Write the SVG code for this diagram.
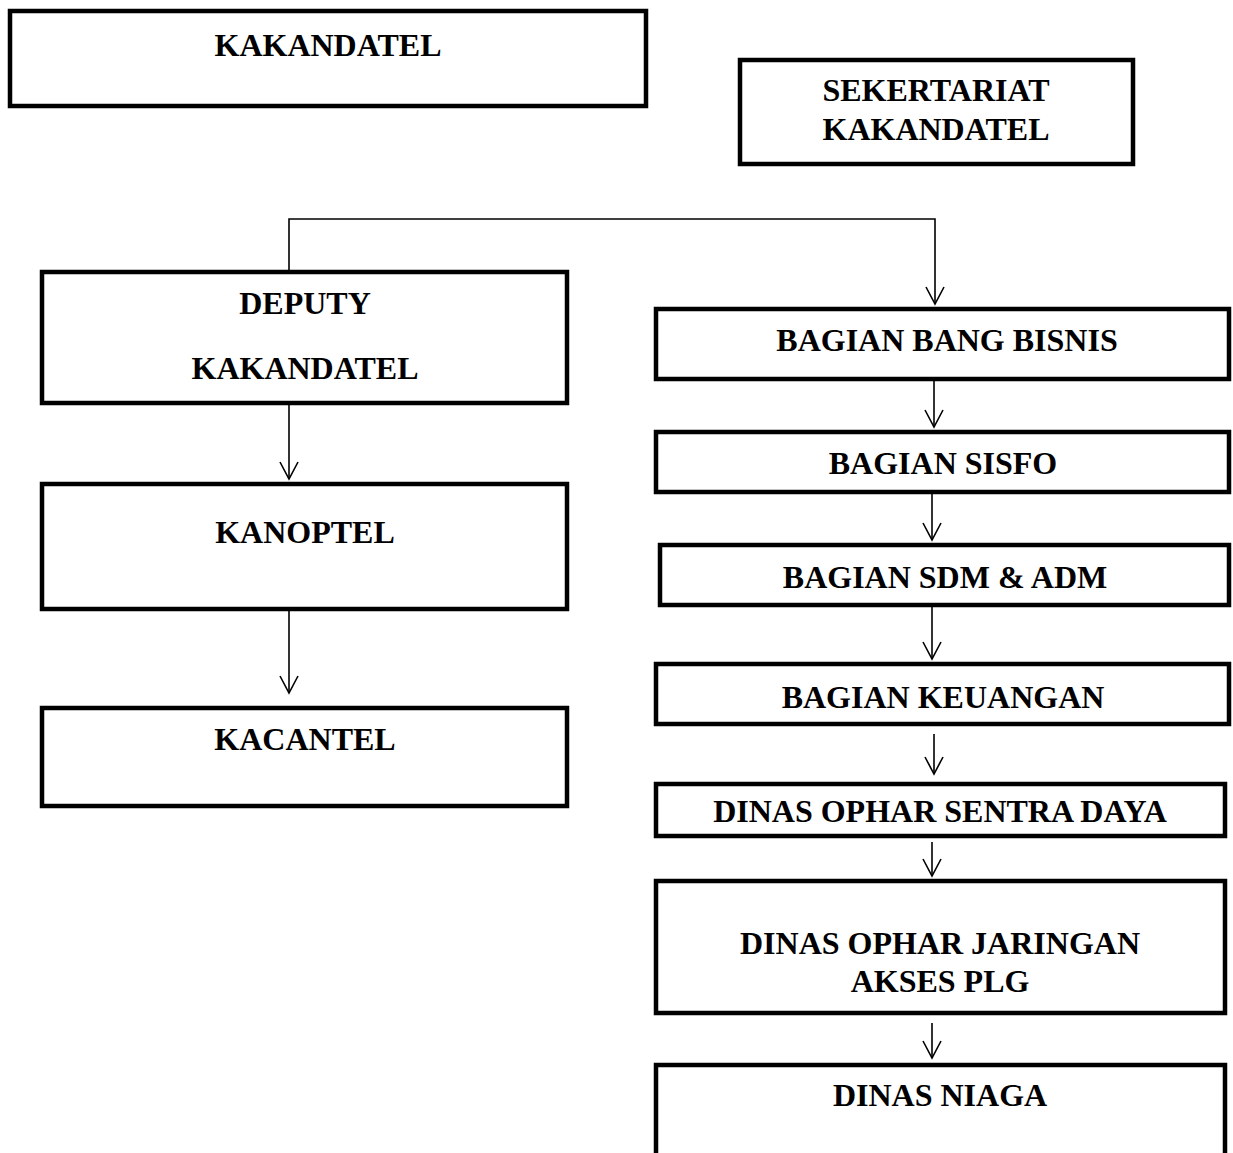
<svg xmlns="http://www.w3.org/2000/svg" width="1233" height="1153" viewBox="0 0 1233 1153">
<style>
.box{fill:#fff;stroke:#000;stroke-width:4.5}
.t{font-family:"Liberation Serif","Times New Roman",serif;font-weight:bold;font-size:32px;fill:#000;text-anchor:middle}
.c{fill:none;stroke:#000;stroke-width:1.6}
</style>
<rect width="1233" height="1153" fill="#fff"/>
<g id="connectors">
<path class="c" d="M289,270 V219 H935 V304"/><path class="c" d="M926,287 L935,304 L944,287"/>
<path class="c" d="M289,405 V479"/><path class="c" d="M280,462 L289,479 L298,462"/>
<path class="c" d="M289,611 V693"/><path class="c" d="M280,676 L289,693 L298,676"/>
<path class="c" d="M934,381 V427"/><path class="c" d="M925,410 L934,427 L943,410"/>
<path class="c" d="M932,494 V540"/><path class="c" d="M923,523 L932,540 L941,523"/>
<path class="c" d="M932,607 V659"/><path class="c" d="M923,642 L932,659 L941,642"/>
<path class="c" d="M934,734 V774"/><path class="c" d="M925,757 L934,774 L943,757"/>
<path class="c" d="M932,842 V876"/><path class="c" d="M923,859 L932,876 L941,859"/>
<path class="c" d="M932,1023 V1058"/><path class="c" d="M923,1041 L932,1058 L941,1041"/>
</g>
<g id="kakandatel"><rect class="box" x="10" y="11" width="636" height="95"/><text class="t" x="328" y="56">KAKANDATEL</text></g>
<g id="sekertariat"><rect class="box" x="740" y="60" width="393" height="104"/><text class="t" x="936" y="101">SEKERTARIAT</text><text class="t" x="936" y="140">KAKANDATEL</text></g>
<g id="deputy"><rect class="box" x="42" y="272" width="525" height="131"/><text class="t" x="305" y="314">DEPUTY</text><text class="t" x="305" y="379">KAKANDATEL</text></g>
<g id="kanoptel"><rect class="box" x="42" y="484" width="525" height="125"/><text class="t" x="305" y="543">KANOPTEL</text></g>
<g id="kacantel"><rect class="box" x="42" y="708" width="525" height="98"/><text class="t" x="305" y="750">KACANTEL</text></g>
<g id="bang-bisnis"><rect class="box" x="656" y="309" width="573" height="70"/><text class="t" x="947" y="351">BAGIAN BANG BISNIS</text></g>
<g id="sisfo"><rect class="box" x="656" y="432" width="573" height="60"/><text class="t" x="943" y="474">BAGIAN SISFO</text></g>
<g id="sdm"><rect class="box" x="660" y="545" width="569" height="60"/><text class="t" x="945" y="588">BAGIAN SDM &amp; ADM</text></g>
<g id="keuangan"><rect class="box" x="656" y="664" width="573" height="60"/><text class="t" x="943" y="708">BAGIAN KEUANGAN</text></g>
<g id="sentra-daya"><rect class="box" x="656" y="784" width="569" height="52"/><text class="t" x="940" y="822">DINAS OPHAR SENTRA DAYA</text></g>
<g id="jaringan"><rect class="box" x="656" y="881" width="569" height="132"/><text class="t" x="940" y="954">DINAS OPHAR JARINGAN</text><text class="t" x="940" y="992">AKSES PLG</text></g>
<g id="niaga"><path class="box" d="M656,1160 V1065 H1225 V1160"/><text class="t" x="940" y="1106">DINAS NIAGA</text></g>
</svg>
